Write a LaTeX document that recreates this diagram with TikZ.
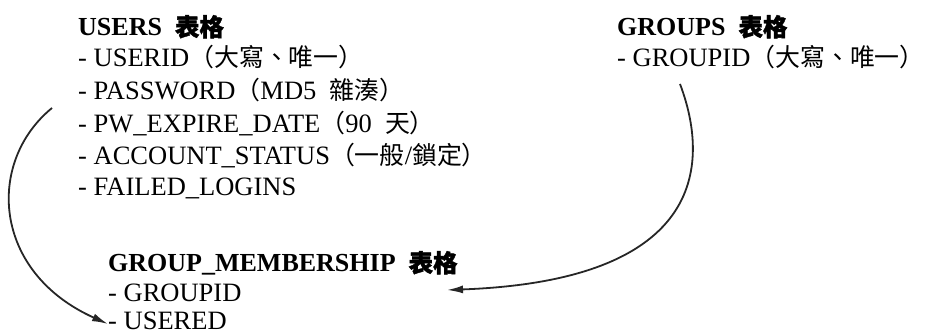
\documentclass[tikz,border=0pt]{standalone}
\usepackage{fontspec}
\setmainfont{Liberation Serif}
\newfontfamily\cjk{Noto Sans CJK TC}[Scale=0.94]
\newfontfamily\cjkb{Noto Sans CJK TC}[Scale=0.94,FakeBold=1.5]
\usetikzlibrary{arrows.meta,calc}
\newcommand{\cj}[1]{{\cjk #1}}
\newcommand{\cjh}[1]{{\cjkb #1}}
\newcommand{\gapsp}{\hspace{0.5em}}
\begin{document}
\begin{tikzpicture}[x=1pt,y=1pt,
  txt/.style={anchor=base west,inner sep=0pt,font=\fontsize{26.5}{32}\selectfont},
  hd/.style={txt,font=\fontsize{26}{32}\selectfont\bfseries},
  link/.style={line width=1.8pt,draw=black!85,-{Latex[length=16pt,width=8pt]}}]
\useasboundingbox (0,0) rectangle (926,334);
% USERS table
\node[hd]  (uh) at (78,298) {USERS\gapsp\cjh{表格}};
\node[txt] (u1) at (78,267) {- USERID\cj{（大寫、唯一）}};
\node[txt] (u2) at (78,234) {- PASSWORD\cj{（}MD5\gapsp\cj{雜湊）}};
\node[txt] (u3) at (78,201) {- PW\_EXPIRE\_DATE\cj{（}90\gapsp\cj{天）}};
\node[txt] (u4) at (78,169) {- ACCOUNT\_STATUS\cj{（一般}/\cj{鎖定）}};
\node[txt] (u5) at (78,138) {- FAILED\_LOGINS};
% GROUPS table
\node[hd]  (gh) at (617,298) {GROUPS\gapsp\cjh{表格}};
\node[txt] (g1) at (617,267) {- GROUPID\cj{（大寫、唯一）}};
% GROUP_MEMBERSHIP table
\node[hd]  (mh) at (108,62) {GROUP\_MEMBERSHIP\gapsp\cjh{表格}};
\node[txt] (m1) at (108,32) {- GROUPID};
\node[txt] (m2) at (108,4) {- USERED};
% connectors
\coordinate (s1) at (52,226);
\coordinate (e1) at ($(m2.base west)+(0,6)$);
\coordinate (s2) at (680,250);
\coordinate (e2) at (447,44);
\draw[link] (s1) .. controls (-14,172) and (-8,62) .. (e1);
\draw[link] (s2) .. controls (705,184) and (720,54) .. (e2);
\end{tikzpicture}
\end{document}
